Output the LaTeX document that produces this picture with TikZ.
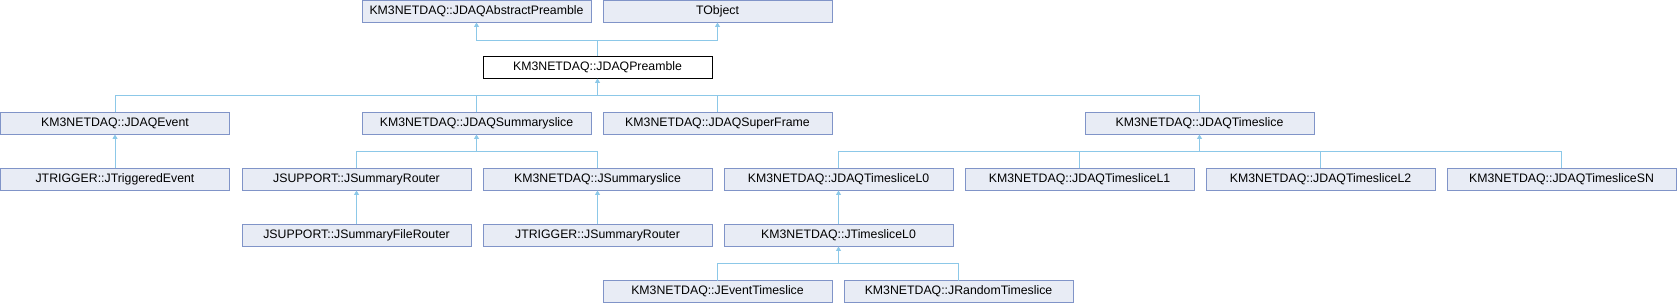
\documentclass[tikz,border=0pt]{standalone}
\usepackage{fontspec}
\setmainfont{Liberation Sans}
\usetikzlibrary{arrows.meta}
\definecolor{boxfill}{RGB}{232,236,245}
\definecolor{boxline}{RGB}{128,148,200}
\definecolor{conn}{RGB}{140,200,232}
\tikzset{
  cls/.style={draw=boxline, fill=boxfill, line width=1pt, minimum width=229pt, minimum height=22pt,
    inner sep=0pt, outer sep=0pt, font=\fontsize{12.3}{14}\selectfont, anchor=north west},
  cur/.style={cls, draw=black, fill=white},
  inh/.style={draw=conn, line width=1pt, -{Triangle[length=4.5pt,width=5pt]}},
  ln/.style={draw=conn, line width=1pt}
}
\begin{document}
\begin{tikzpicture}[x=1pt,y=-1pt]
\useasboundingbox (0,0) rectangle (1677,304);
% row 0
\node[cls] (abs) at (362,0.5) {KM3NETDAQ::JDAQAbstractPreamble};
\node[cls] (tobj) at (603,0.5) {TObject};
% row 1
\node[cur] (pre) at (483,56.5) {KM3NETDAQ::JDAQPreamble};
% row 2
\node[cls] (evt) at (0.5,112.5) {KM3NETDAQ::JDAQEvent};
\node[cls] (sum) at (362,112.5) {KM3NETDAQ::JDAQSummaryslice};
\node[cls] (sup) at (603,112.5) {KM3NETDAQ::JDAQSuperFrame};
\node[cls] (ts) at (1085,112.5) {KM3NETDAQ::JDAQTimeslice};
% row 3
\node[cls] (trig) at (0.5,168.5) {JTRIGGER::JTriggeredEvent};
\node[cls] (srt) at (242,168.5) {JSUPPORT::JSummaryRouter};
\node[cls] (jsum) at (483,168.5) {KM3NETDAQ::JSummaryslice};
\node[cls] (l0) at (724,168.5) {KM3NETDAQ::JDAQTimesliceL0};
\node[cls] (l1) at (965,168.5) {KM3NETDAQ::JDAQTimesliceL1};
\node[cls] (l2) at (1206,168.5) {KM3NETDAQ::JDAQTimesliceL2};
\node[cls] (sn) at (1447,168.5) {KM3NETDAQ::JDAQTimesliceSN};
% row 4
\node[cls] (sfr) at (242,224.5) {JSUPPORT::JSummaryFileRouter};
\node[cls] (tsr) at (483,224.5) {JTRIGGER::JSummaryRouter};
\node[cls] (jl0) at (724,224.5) {KM3NETDAQ::JTimesliceL0};
% row 5
\node[cls] (ets) at (603,280.5) {KM3NETDAQ::JEventTimeslice};
\node[cls] (rts) at (844,280.5) {KM3NETDAQ::JRandomTimeslice};

% preamble -> parents
\draw[ln] (pre.north) -- ++(0,-16) coordinate (jp);
\draw[inh] (jp) -| (abs.south);
\draw[inh] (jp) -| (tobj.south);
% preamble children
\draw[inh] (pre.south) ++(0,17) coordinate (jc) -- (pre.south);
\draw[ln] (evt.north) |- (jc);
\draw[ln] (sum.north) |- (jc);
\draw[ln] (sup.north) |- (jc);
\draw[ln] (ts.north) |- (jc);
% event
\draw[inh] (trig.north) -- (evt.south);
% summaryslice
\draw[inh] (sum.south) ++(0,17) coordinate (js) -- (sum.south);
\draw[ln] (srt.north) |- (js);
\draw[ln] (jsum.north) |- (js);
% timeslice
\draw[inh] (ts.south) ++(0,17) coordinate (jt) -- (ts.south);
\draw[ln] (l0.north) |- (jt);
\draw[ln] (l1.north) |- (jt);
\draw[ln] (l2.north) |- (jt);
\draw[ln] (sn.north) |- (jt);
% row 3 -> row 4
\draw[inh] (sfr.north) -- (srt.south);
\draw[inh] (tsr.north) -- (jsum.south);
\draw[inh] (jl0.north) -- (l0.south);
% JTimesliceL0 children
\draw[inh] (jl0.south) ++(0,17) coordinate (jj) -- (jl0.south);
\draw[ln] (ets.north) |- (jj);
\draw[ln] (rts.north) |- (jj);
\end{tikzpicture}
\end{document}
